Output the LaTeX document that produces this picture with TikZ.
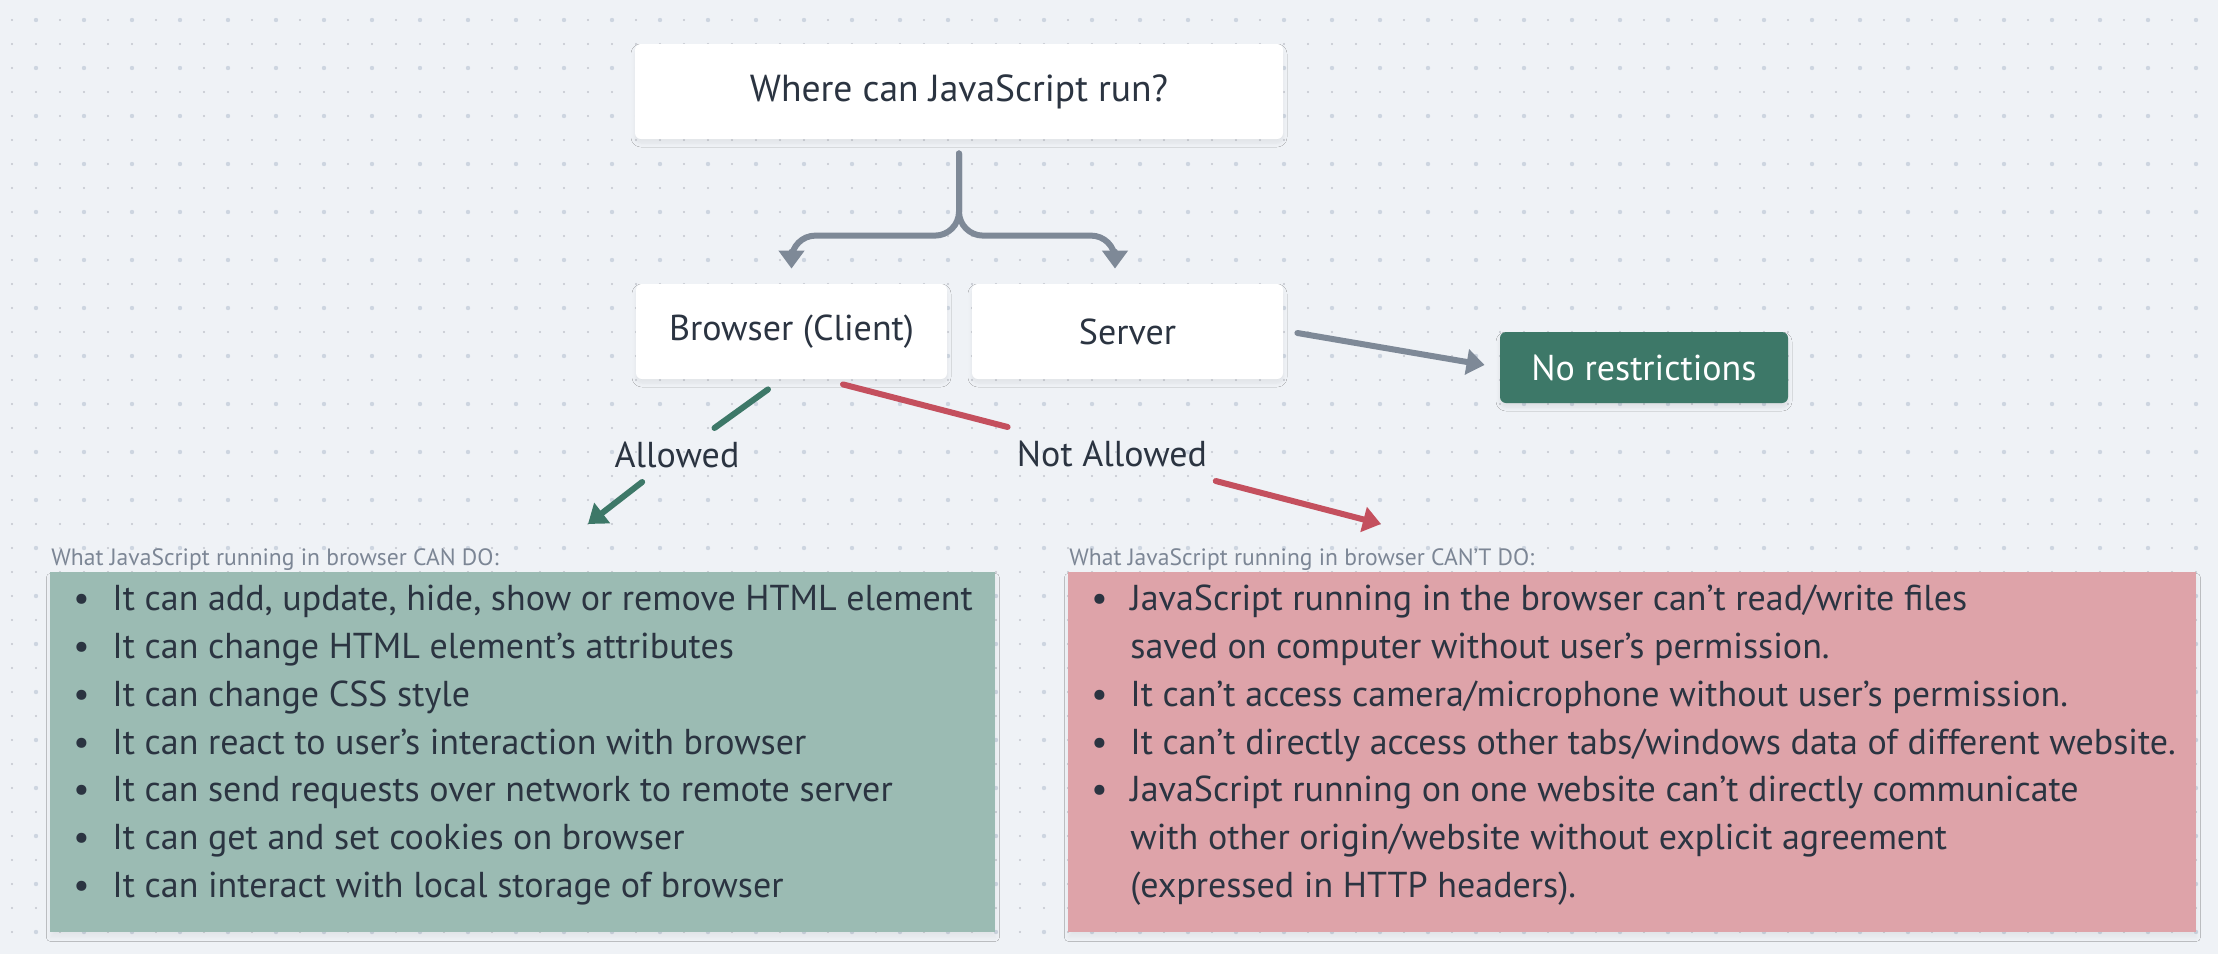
\documentclass[tikz,border=0pt]{standalone}
\usepackage{fontspec}
\setmainfont{PT Sans}
\usetikzlibrary{arrows.meta,shadows.blur}

\definecolor{bgcol}{HTML}{EFF2F6}
\definecolor{dotsmall}{HTML}{C2C6CE}
\definecolor{dotbig}{HTML}{CDD5E0}
\definecolor{ink}{HTML}{2B3441}
\definecolor{capgray}{HTML}{7C8695}
\definecolor{linkgray}{HTML}{7E8997}
\definecolor{okgreen}{HTML}{3D7868}
\definecolor{nored}{HTML}{C4505E}
\definecolor{canfill}{HTML}{9BBBB3}
\definecolor{cantfill}{HTML}{DEA3A9}

\newcommand{\bul}{\strut\makebox[19.5pt][l]{\textbullet}}
\newcommand{\cont}{\strut\hspace{19.5pt}}

\begin{document}
\begin{tikzpicture}[x=0.5pt,y=-0.5pt,
  card/.style={fill=white, rounded corners=3pt, minimum width=155.5pt, minimum height=47.5pt,
    text=ink, font=\fontsize{18}{20}\selectfont,
    blur shadow={shadow blur steps=6, shadow xshift=0pt, shadow yshift=-2pt, shadow opacity=6}},
  answer/.style={fill=okgreen, rounded corners=3pt, minimum width=144pt, minimum height=35.5pt,
    text=white, font=\fontsize{18}{20}\selectfont,
    blur shadow={shadow blur steps=6, shadow xshift=0pt, shadow yshift=-2pt, shadow opacity=8}},
  tag/.style={text=ink, inner sep=7pt, outer sep=0pt, font=\fontsize{18}{20}\selectfont},
  caption/.style={text=capgray, inner sep=0pt, anchor=base west, font=\fontsize{11.8}{14}\selectfont},
  listbox/.style={anchor=north west, inner sep=0pt, minimum width=#1, minimum height=180pt,
    blur shadow={shadow blur steps=6, shadow xshift=0pt, shadow yshift=-2.5pt, shadow opacity=5}},
  listtext/.style={anchor=north west, inner sep=0pt, align=left, text=ink,
    font=\fontsize{18}{23.95}\selectfont},
  fork/.style={draw=linkgray, line width=3pt, line cap=round, rounded corners=12pt,
    -{Triangle[length=9pt,width=12.5pt]}},
  link/.style={draw=#1, line width=3pt, line cap=round},
  tip/.style={-{Triangle[length=9pt,width=12.5pt]}}
]

% canvas and dot grid
\fill[bgcol] (0,0) rectangle (2218,954);
\useasboundingbox (0,0) rectangle (2218,954);
\foreach \x in {12,36,...,2218}
  \foreach \y in {20,44,...,954}
    \fill[dotsmall] (\x,\y) circle[radius=0.55pt];
\foreach \x in {36,84,...,2218}
  \foreach \y in {20,68,...,954}
    \fill[dotbig] (\x,\y) circle[radius=1.1pt];

% question and the two places
\node[card, minimum width=324pt, font=\fontsize{18.8}{20}\selectfont] (question) at (959,91.5) {Where can JavaScript run?};
\node[card] (browser) at (791.5,331.5) {Browser (Client)};
\node[card] (server) at (1127.5,331.5) {Server};
\node[answer] (norestr) at (1644,367.5) {No restrictions};

\draw[fork] ([shift={(0,14)}]question.south) |- ([shift={(0,-48)}]browser.north)
  -- ([shift={(0,-15)}]browser.north);
\draw[fork] ([shift={(0,14)}]question.south) |- ([shift={(-12.5,-48)}]server.north)
  -- ([shift={(-12.5,-15)}]server.north);

\draw[link=linkgray, tip] ([shift={(14,1.5)}]server.east) -- ([shift={(-15,-2.5)}]norestr.west);

% allowed / not allowed
\coordinate (okstart) at ([shift={(-23.5,10)}]browser.south);
\coordinate (nostart) at ([shift={(51.5,5)}]browser.south);
\coordinate (okend) at (588,524);
\coordinate (noend) at (1381,524);
\node[tag] (allowed) at (677,455) {Allowed};
\node[tag] (notallowed) at (1112,454) {Not Allowed};

\draw[link=okgreen] (okstart) -- (allowed);
\draw[link=okgreen, tip] (allowed) -- (okend);
\draw[link=nored] (nostart) -- (notallowed);
\draw[link=nored, tip] (notallowed) -- (noend);

% what it can do
\node[caption] (cancap) at (51,565) {What JavaScript running in browser CAN DO:};
\node[listbox=472.5pt, fill=canfill] (can) at (50,572) {};
\node[listtext] (canlist) at (73,576.4) {%
  \bul It can add, update, hide, show or remove HTML element\\
  \bul It can change HTML element’s attributes\\
  \bul It can change CSS style\\
  \bul It can react to user’s interaction with browser\\
  \bul It can send requests over network to remote server\\
  \bul It can get and set cookies on browser\\
  \bul It can interact with local storage of browser};

% what it can't do
\node[caption] (cantcap) at (1069,565) {What JavaScript running in browser CAN’T DO:};
\node[listbox=564pt, fill=cantfill] (cant) at (1068,572) {};
\node[listtext] (cantlist) at (1091,576.4) {%
  \bul JavaScript running in the browser can’t read/write files\\
  \cont saved on computer without user’s permission.\\
  \bul It can’t access camera/microphone without user’s permission.\\
  \bul It can’t directly access other tabs/windows data of different website.\\
  \bul JavaScript running on one website can’t directly communicate\\
  \cont with other origin/website without explicit agreement\\
  \cont (expressed in HTTP headers).};

\end{tikzpicture}
\end{document}
